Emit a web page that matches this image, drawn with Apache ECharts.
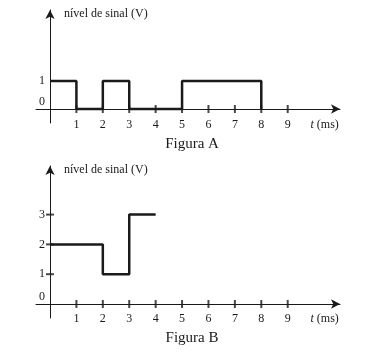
<!DOCTYPE html>
<html><head><meta charset="utf-8">
<script src="https://cdn.jsdelivr.net/npm/echarts@6/dist/echarts.min.js"></script>
<style>html,body{margin:0;padding:0;background:#fff}#c{width:378px;height:358px}</style>
</head><body><div id="c"></div>
<script>
// Figure A: square signal (transition times, level after transition)
const sigA_t = [0, 1, 2, 3, 5, 8];
const sigA_v = [1, 0, 1, 0, 1, 0];
// Figure B: multi-level signal
const sigB_t = [0, 2, 3, 4];
const sigB_v = [2, 1, 3, 3];
const xTicks = [1, 2, 3, 4, 5, 6, 7, 8, 9];
const yTicksA = [0, 1];
const yTicksB = [0, 1, 2, 3];
const xUnitPos = 10.4; // where "t (ms)" sits
const yName = 'nível de sinal (V)';
const xName = 't (ms)';
const titles = ['Figura A', 'Figura B'];

const FONT = 'Liberation Serif';
const INK = '#1a1a1a';

function xAxisDef(gi, margin) {
  return {
    gridIndex: gi, type: 'value', min: -0.53, max: 10.98,
    axisLine: { onZero: true, lineStyle: { color: INK, width: 1 }, symbol: ['none', 'arrow'], symbolSize: [7, 9] },
    axisTick: { show: false },
    splitLine: { show: false },
    axisLabel: {
      customValues: xTicks.concat([xUnitPos]), margin: margin,
      fontFamily: FONT, fontSize: 12, color: INK,
      formatter: v => (Math.abs(v - xUnitPos) < 1e-6 ? '{i|t} (ms)' : String(v)),
      rich: { i: { fontStyle: 'italic', fontFamily: FONT, fontSize: 12, color: INK } }
    }
  };
}
function yAxisDef(gi, min, max, ticks) {
  return {
    gridIndex: gi, type: 'value', min: min, max: max,
    axisLine: { onZero: true, lineStyle: { color: INK, width: 1 }, symbol: ['none', 'arrow'], symbolSize: [7, 9] },
    axisTick: { show: false },
    splitLine: { show: false },
    name: yName, nameLocation: 'end', nameGap: -4,
    nameTextStyle: { fontFamily: FONT, fontSize: 12, color: INK, align: 'left', verticalAlign: 'middle', padding: [0, 0, 0, 14] },
    axisLabel: {
      customValues: ticks, margin: -9,
      fontFamily: FONT, fontSize: 12, color: INK,
      formatter: v => (v === 0 ? '{z|0}' : String(v)),
      rich: { z: { fontFamily: FONT, fontSize: 12, color: INK, padding: [0, 0, 14, 0] } }
    }
  };
}
function stepData(ts, vs) { return ts.map((t, i) => [t, vs[i]]); }

const chart = echarts.init(document.getElementById('c'), null, { renderer: 'canvas' });
chart.setOption({
  animation: false,
  backgroundColor: '#fff',
  title: [
    { text: titles[0], left: 187, top: 132, textAlign: 'center', textStyle: { fontFamily: FONT, fontSize: 15, fontWeight: 'normal', color: INK } },
    { text: titles[1], left: 187, top: 326, textAlign: 'center', textStyle: { fontFamily: FONT, fontSize: 15, fontWeight: 'normal', color: INK } }
  ],
  grid: [
    { left: 36, top: 10, width: 304, height: 113 },
    { left: 36, top: 166, width: 304, height: 152 }
  ],
  xAxis: [xAxisDef(0, -4), xAxisDef(1, -5)],
  yAxis: [yAxisDef(0, -0.5, 3.54, yTicksA), yAxisDef(1, -0.47, 4.63, yTicksB)],
  series: [
    { type: 'scatter', xAxisIndex: 0, yAxisIndex: 0, symbol: 'rect', symbolSize: [2, 8], itemStyle: { color: INK }, data: xTicks.map(t => [t, 0]), silent: true },
    { type: 'scatter', xAxisIndex: 1, yAxisIndex: 1, symbol: 'rect', symbolSize: [2, 8], itemStyle: { color: INK }, data: xTicks.map(t => [t, 0]), silent: true },
    { type: 'scatter', xAxisIndex: 1, yAxisIndex: 1, symbol: 'rect', symbolSize: [8, 2], itemStyle: { color: INK }, data: yTicksB.filter(v => v > 0).map(v => [0, v]), silent: true },
    { type: 'line', xAxisIndex: 0, yAxisIndex: 0, step: 'end', showSymbol: false, symbol: 'none', lineStyle: { color: INK, width: 2.5 }, data: stepData(sigA_t, sigA_v), z: 5 },
    { type: 'line', xAxisIndex: 1, yAxisIndex: 1, step: 'end', showSymbol: false, symbol: 'none', lineStyle: { color: INK, width: 2.5 }, data: stepData(sigB_t, sigB_v), z: 5 }
  ]
});
</script></body></html>
